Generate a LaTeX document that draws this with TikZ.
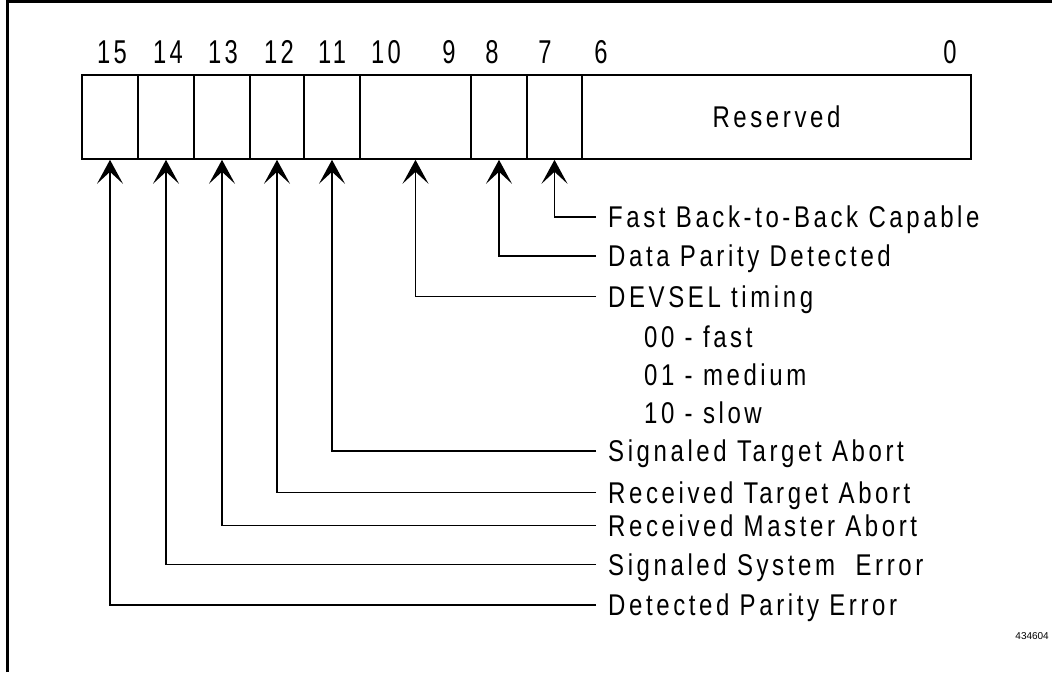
\documentclass[tikz,border=0pt]{standalone}
\usepackage{fontspec}
\setmainfont{Liberation Sans}[FakeStretch=0.8,LetterSpace=12]
\newfontfamily\bitfont{Liberation Sans}[FakeStretch=0.72,LetterSpace=10]
\newfontfamily\tagfont{Liberation Sans}
\usetikzlibrary{arrows.meta,positioning}

\tikzset{
  cell/.style={draw, line width=1.6pt, minimum height=84pt, inner sep=0pt},
  bitnum/.style={font=\bitfont\fontsize{33}{36}\selectfont, inner sep=0pt,
    text height=23pt, text depth=0pt},
  fieldlabel/.style={anchor=west, inner xsep=12pt, inner ysep=0pt,
    text height=21pt, text depth=0pt, font=\fontsize{30}{34}\selectfont},
  codelabel/.style={fieldlabel, inner xsep=0pt},
  pointer/.style={line width=1.6pt, -{Stealth[length=24pt,width=26pt,inset=12pt]}}
}

\begin{document}
\begin{tikzpicture}[x=1pt, y=-1pt]
\useasboundingbox (0,0) rectangle (1052,672);

% frame
\draw[line width=3pt] (7,672) -- (7,1.5) -- (1052,1.5);

% register cells
\node[cell, minimum width=56pt] (c15) at (110,117) {};
\node[cell, minimum width=56pt] (c14) at (166,117) {};
\node[cell, minimum width=56pt] (c13) at (222,117) {};
\node[cell, minimum width=54pt] (c12) at (277,117) {};
\node[cell, minimum width=56pt] (c11) at (332,117) {};
\node[cell, minimum width=111pt] (c10) at (415.5,117) {};
\node[cell, minimum width=56pt] (c8) at (499,117) {};
\node[cell, minimum width=55pt] (c7) at (554.5,117) {};
\node[cell, minimum width=389pt, font=\fontsize{30}{34}\selectfont] (cres) at (776.5,117) {Reserved};

% bit numbers
\node[bitnum] (n15) at (112,51.5) {15};
\node[bitnum] (n14) at (168,51.5) {14};
\node[bitnum] (n13) at (223,51.5) {13};
\node[bitnum] (n12) at (279,51.5) {12};
\node[bitnum] (n11) at (332,51.5) {11};
\node[bitnum] (n10) at (386,51.5) {10};
\node[bitnum] (n9) at (449,51.5) {9};
\node[bitnum] (n8) at (492,51.5) {8};
\node[bitnum] (n7) at (545,51.5) {7};
\node[bitnum] (n6) at (601,51.5) {6};
\node[bitnum] (n0) at (950,51.5) {0};

% field names
\node[fieldlabel] (l7) at (596,217) {Fast Back-to-Back Capable};
\node[fieldlabel] (l8) at (596,256) {Data Parity Detected};
\node[fieldlabel] (l10) at (596,296.5) {DEVSEL timing};
\node[codelabel] (s00) at (644,337) {00 - fast};
\node[codelabel] (s01) at (644,375) {01 - medium};
\node[codelabel] (s10) at (644,413) {10 - slow};
\node[fieldlabel] (l11) at (596,451) {Signaled Target Abort};
\node[fieldlabel] (l12) at (596,492.5) {Received Target Abort};
\node[fieldlabel] (l13) at (596,525.5) {Received Master Abort};
\node[fieldlabel] (l14) at (596,564.5) {Signaled System\ \ Error};
\node[fieldlabel] (l15) at (596,605) {Detected Parity Error};

\draw[pointer] (l7.west) -| (c7.south);
\draw[pointer] (l8.west) -| (c8.south);
\draw[pointer] (l10.west) -| (c10.south);
\draw[pointer] (l11.west) -| (c11.south);
\draw[pointer] (l12.west) -| (c12.south);
\draw[pointer] (l13.west) -| (c13.south);
\draw[pointer] (l14.west) -| (c14.south);
\draw[pointer] (l15.west) -| (c15.south);

\node[font=\tagfont\fontsize{10}{12}\selectfont, anchor=east, inner sep=0pt] (tag) at (1049,636) {434604};

\end{tikzpicture}
\end{document}
